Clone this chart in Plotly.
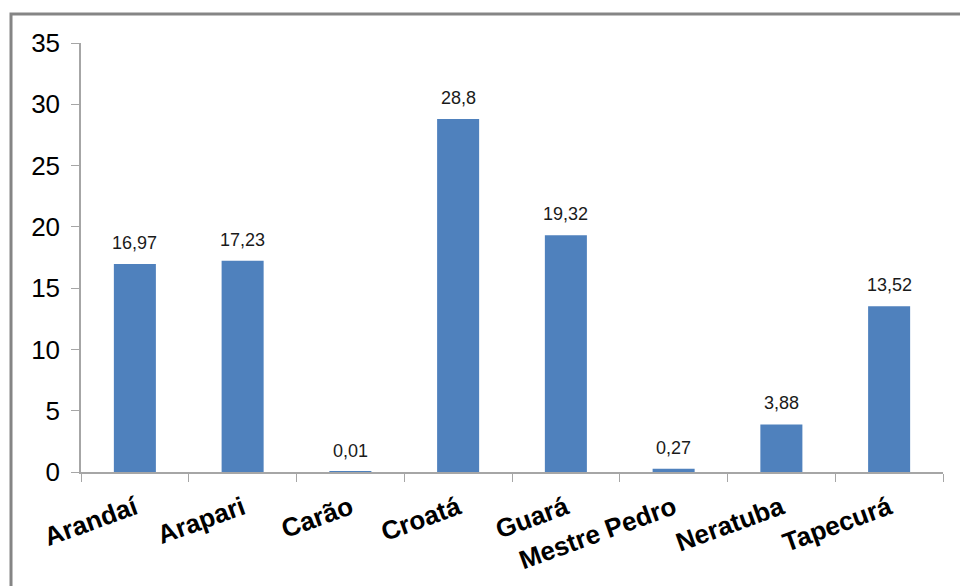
import plotly.graph_objects as go

categories = ["Arandaí", "Arapari", "Carão", "Croatá", "Guará", "Mestre Pedro", "Neratuba", "Tapecurá"]
values = [16.97, 17.23, 0.01, 28.8, 19.32, 0.27, 3.88, 13.52]
labels = ["16,97", "17,23", "0,01", "28,8", "19,32", "0,27", "3,88", "13,52"]
y_ticks = [0, 5, 10, 15, 20, 25, 30, 35]

fig = go.Figure()
fig.add_trace(go.Bar(x=categories, y=values, marker=dict(color="#4F81BD", line=dict(width=0)),
                     width=0.39, hoverinfo="x+y"))

for c, v, t in zip(categories, values, labels):
    fig.add_annotation(x=c, y=v, text=t, showarrow=False, yanchor="middle", yshift=21,
                       font=dict(family="Liberation Sans, Arial", size=18, color="#1a1a1a"))

fig.update_layout(
    width=960, height=586,
    margin=dict(l=81, r=17, t=43, b=114),
    paper_bgcolor="white", plot_bgcolor="white",
    showlegend=False,
    font=dict(family="Liberation Sans, Arial"),
    xaxis=dict(showline=True, linecolor="#A6A6A6", linewidth=1.5, ticks="outside", ticklen=8,
               tickcolor="#A6A6A6", tickson="boundaries", tickangle=-20,
               tickfont=dict(family="Liberation Sans, Arial", size=26, color="#000000", weight="bold"),
               ticklabelstandoff=9, showgrid=False),
    yaxis=dict(range=[0, 35], tickvals=y_ticks, showline=True, linecolor="#A6A6A6", linewidth=1.5,
               ticks="outside", ticklen=8, tickcolor="#A6A6A6", showgrid=False, zeroline=False,
               tickfont=dict(family="Liberation Sans, Arial", size=26, color="#000000"),
               ticklabelstandoff=6),
    shapes=[dict(type="rect", xref="paper", yref="paper", x0=-0.0812, x1=1.2, y0=-0.5, y1=1.0676,
                 line=dict(color="#858585", width=3), layer="below")],
)

fig.write_html("out.html")
